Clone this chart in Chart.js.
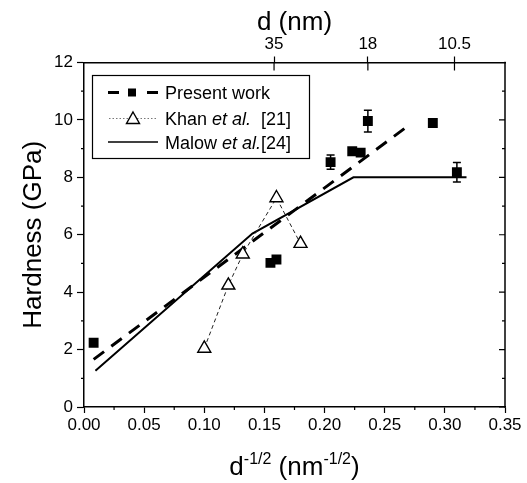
<!DOCTYPE html>
<html>
<head>
<meta charset="utf-8">
<script src="https://cdn.jsdelivr.net/npm/chart.js@4/dist/chart.umd.min.js"></script>
<style>
    html, body { margin: 0; padding: 0; background: #fff; }
</style>
</head>
<body>
<canvas id="hardnessChart" width="527" height="483"></canvas>
<script>
// Present work (filled squares) + error bars
const presentX = [0.008, 0.155, 0.160, 0.205, 0.223, 0.230, 0.236, 0.290, 0.310];
const presentY = [2.24, 5.02, 5.14, 8.53, 8.91, 8.86, 9.96, 9.89, 8.18];
const presentErr = [0, 0, 0, 0.25, 0, 0, 0.38, 0, 0.34];

// Present work linear fit (dashed)
const fitX = [0.008, 0.270];
const fitY = [1.66, 9.81];

// Khan et al. [21]
const khanX = [0.100, 0.120, 0.132, 0.160, 0.180];
const khanY = [2.04, 4.24, 5.32, 7.28, 5.69];

// Malow et al. [24]
const malowX = [0.0095, 0.140, 0.224, 0.318];
const malowY = [1.26, 6.04, 8.0, 8.0];

// Axis ticks
const xTicks = [0, 0.05, 0.10, 0.15, 0.20, 0.25, 0.30, 0.35];
const xMinor = [0.025, 0.075, 0.125, 0.175, 0.225, 0.275, 0.325];
const yTicks = [0, 2, 4, 6, 8, 10, 12];
const yMinor = [1, 3, 5, 7, 9, 11];
const topTickPos = [0.158, 0.236, 0.308];
const topTickLabels = ['35', '18', '10.5'];

const FONT = '"Liberation Sans", Arial, Helvetica, sans-serif';

function toPoints(xs, ys) {
    return xs.map((x, i) => ({ x: x, y: ys[i] }));
}

// frame on the right, inner ticks and minor ticks
const frameTicks = {
    id: 'frameTicks',
    afterDraw(chart) {
        const { ctx, chartArea: a, scales } = chart;
        const xs = scales.x, ys = scales.y;
        ctx.save();
        ctx.strokeStyle = '#000';
        ctx.lineWidth = 1.5;
        ctx.beginPath();
        ctx.moveTo(a.right, a.top - 0.75);
        ctx.lineTo(a.right, a.bottom + 0.75);
        ctx.stroke();

        ctx.lineWidth = 1.2;
        ctx.beginPath();
        yTicks.forEach(v => {
            const py = ys.getPixelForValue(v);
            ctx.moveTo(a.right, py); ctx.lineTo(a.right - 6, py);
        });
        yMinor.forEach(v => {
            const py = ys.getPixelForValue(v);
            ctx.moveTo(a.right, py); ctx.lineTo(a.right - 3, py);
            ctx.moveTo(a.left, py); ctx.lineTo(a.left - 3, py);
        });
        xMinor.forEach(v => {
            const px = xs.getPixelForValue(v);
            ctx.moveTo(px, a.bottom); ctx.lineTo(px, a.bottom + 3);
        });
        topTickPos.forEach(v => {
            const px = xs.getPixelForValue(v);
            ctx.moveTo(px, a.top); ctx.lineTo(px, a.top + 8);
        });
        ctx.stroke();

        // bottom title with superscripts
        const parts = [
            ['d', 26, 0], ['-1/2', 16, -11], [' (nm', 26, 0], ['-1/2', 16, -11], [')', 26, 0]
        ];
        let total = 0;
        parts.forEach(p => { ctx.font = p[1] + 'px ' + FONT; total += ctx.measureText(p[0]).width; });
        let tx = (a.left + a.right) / 2 - total / 2;
        const baseY = 475;
        ctx.fillStyle = '#000';
        ctx.textBaseline = 'alphabetic';
        ctx.textAlign = 'left';
        parts.forEach(p => {
            ctx.font = p[1] + 'px ' + FONT;
            ctx.fillText(p[0], tx, baseY + p[2]);
            tx += ctx.measureText(p[0]).width;
        });
        ctx.restore();
    }
};

// error bars for present work
const errorBars = {
    id: 'errorBars',
    afterDatasetsDraw(chart) {
        const { ctx, scales } = chart;
        ctx.save();
        ctx.strokeStyle = '#000';
        ctx.lineWidth = 1.5;
        ctx.beginPath();
        presentX.forEach((x, i) => {
            if (!presentErr[i]) return;
            const px = scales.x.getPixelForValue(x);
            const top = scales.y.getPixelForValue(presentY[i] + presentErr[i]);
            const bot = scales.y.getPixelForValue(presentY[i] - presentErr[i]);
            ctx.moveTo(px, top); ctx.lineTo(px, bot);
            ctx.moveTo(px - 4, top); ctx.lineTo(px + 4, top);
            ctx.moveTo(px - 4, bot); ctx.lineTo(px + 4, bot);
        });
        ctx.stroke();
        ctx.restore();
    }
};

// legend box, drawn by hand to get mixed italic text
const legendBox = {
    id: 'legendBox',
    afterDraw(chart) {
        const ctx = chart.ctx;
        ctx.save();
        ctx.fillStyle = '#fff';
        ctx.fillRect(92.5, 75.5, 217, 83);
        ctx.strokeStyle = '#000';
        ctx.lineWidth = 1.2;
        ctx.strokeRect(92.5, 75.5, 217, 83);

        // present work
        ctx.lineWidth = 3;
        ctx.beginPath();
        ctx.moveTo(108, 92.5); ctx.lineTo(119, 92.5);
        ctx.moveTo(147, 92.5); ctx.lineTo(158, 92.5);
        ctx.stroke();
        ctx.fillStyle = '#000';
        ctx.fillRect(128, 88.5, 8, 8);

        // khan
        ctx.lineWidth = 1;
        ctx.strokeStyle = '#777';
        ctx.setLineDash([1.5, 2]);
        ctx.beginPath();
        ctx.moveTo(109, 118.5); ctx.lineTo(157, 118.5);
        ctx.stroke();
        ctx.setLineDash([]);
        ctx.strokeStyle = '#000';
        ctx.lineWidth = 1.4;
        ctx.fillStyle = '#fff';
        ctx.beginPath();
        ctx.moveTo(133, 112); ctx.lineTo(139.5, 123.5); ctx.lineTo(126.5, 123.5); ctx.closePath();
        ctx.fill(); ctx.stroke();

        // malow
        ctx.lineWidth = 1.5;
        ctx.beginPath();
        ctx.moveTo(108, 142); ctx.lineTo(158, 142);
        ctx.stroke();

        ctx.fillStyle = '#000';
        ctx.textBaseline = 'alphabetic';
        const rows = [
            [[ 'Present work', false ]],
            [[ 'Khan ', false ], [ 'et al.', true ], [ '  [21]', false ]],
            [[ 'Malow ', false ], [ 'et al.', true ], [ '[24]', false ]]
        ];
        const baselines = [98.5, 124.5, 148.5];
        rows.forEach((row, r) => {
            let tx = 165;
            row.forEach(seg => {
                ctx.font = (seg[1] ? 'italic ' : '') + '18px ' + FONT;
                ctx.fillText(seg[0], tx, baselines[r]);
                tx += ctx.measureText(seg[0]).width;
            });
        });
        ctx.restore();
    }
};

const tickFont = { family: FONT, size: 17 };

new Chart(document.getElementById('hardnessChart'), {
    type: 'scatter',
    data: {
        datasets: [
            {
                label: 'Present work',
                data: toPoints(presentX, presentY),
                showLine: false,
                pointStyle: 'rect',
                pointRadius: 7,
                pointBackgroundColor: '#000',
                pointBorderColor: '#000',
                pointBorderWidth: 0
            },
            {
                label: 'Khan et al. [21]',
                data: toPoints(khanX, khanY),
                showLine: true,
                borderColor: '#222',
                borderWidth: 1,
                borderDash: [4, 3],
                pointStyle: 'triangle',
                pointRadius: 7.5,
                pointBackgroundColor: '#fff',
                pointBorderColor: '#000',
                pointBorderWidth: 1.4
            },
            {
                label: 'Malow et al.[24]',
                data: toPoints(malowX, malowY),
                showLine: true,
                borderColor: '#000',
                borderWidth: 2,
                pointRadius: 0
            },
            {
                label: 'fit',
                data: toPoints(fitX, fitY),
                showLine: true,
                borderColor: '#000',
                borderWidth: 3,
                borderDash: [13, 9],
                pointRadius: 0
            }
        ]
    },
    options: {
        responsive: false,
        animation: false,
        layout: { padding: { left: 0, right: 22, top: 0, bottom: 0 } },
        plugins: {
            legend: { display: false },
            tooltip: { enabled: false }
        },
        scales: {
            x: {
                type: 'linear',
                position: 'bottom',
                min: 0,
                max: 0.35,
                afterBuildTicks: scale => { scale.ticks = xTicks.map(v => ({ value: v })); },
                afterFit: scale => { scale.height = 76; },
                ticks: {
                    autoSkip: false,
                    maxRotation: 0,
                    color: '#000',
                    font: tickFont,
                    padding: 2,
                    callback: v => v.toFixed(2)
                },
                grid: { drawOnChartArea: false, drawTicks: true, tickLength: 6, color: '#000', tickWidth: 1.2 },
                border: { display: true, color: '#000', width: 1.5 }
            },
            x2: {
                type: 'linear',
                axis: 'x',
                position: 'top',
                min: 0,
                max: 0.35,
                afterBuildTicks: scale => { scale.ticks = topTickPos.map(v => ({ value: v })); },
                afterFit: scale => { scale.height = 62.5; },
                ticks: {
                    autoSkip: false,
                    maxRotation: 0,
                    color: '#000',
                    font: tickFont,
                    padding: 2,
                    callback: (v, i) => topTickLabels[i]
                },
                title: {
                    display: true,
                    text: 'd (nm)',
                    color: '#000',
                    font: { family: FONT, size: 26 },
                    padding: { top: 7, bottom: 0 }
                },
                grid: { drawOnChartArea: false, drawTicks: true, tickLength: 6, color: '#000', tickWidth: 1.2 },
                border: { display: true, color: '#000', width: 1.5 }
            },
            y: {
                type: 'linear',
                position: 'left',
                min: 0,
                max: 12,
                afterBuildTicks: scale => { scale.ticks = yTicks.map(v => ({ value: v })); },
                afterFit: scale => { scale.width = 84; },
                ticks: {
                    color: '#000',
                    font: tickFont,
                    padding: 4
                },
                title: {
                    display: true,
                    text: 'Hardness (GPa)',
                    color: '#000',
                    font: { family: FONT, size: 26 },
                    padding: { top: 18, bottom: 0 }
                },
                grid: { drawOnChartArea: false, drawTicks: true, tickLength: 7, color: '#000', tickWidth: 1.2 },
                border: { display: true, color: '#000', width: 1.5 }
            }
        }
    },
    plugins: [frameTicks, errorBars, legendBox]
});
</script>
</body>
</html>
